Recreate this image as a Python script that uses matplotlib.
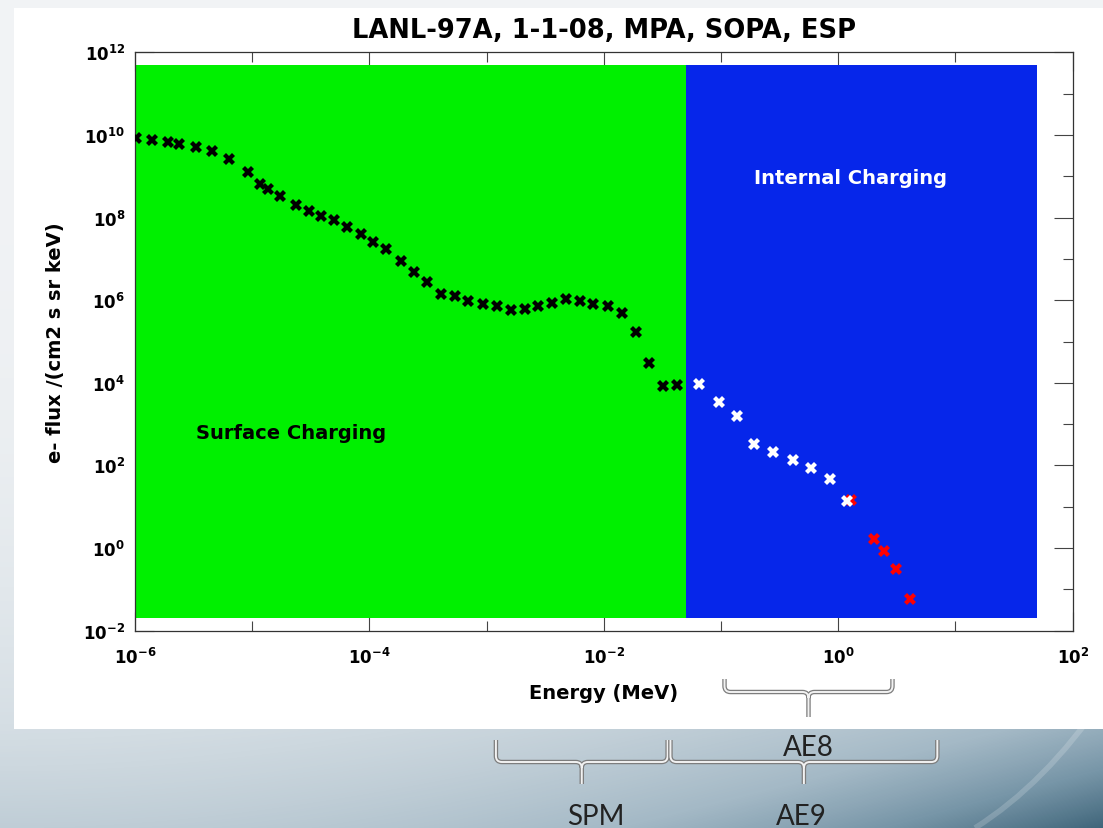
import numpy as np
import matplotlib
matplotlib.use('Agg')
import matplotlib.pyplot as plt
from matplotlib.path import Path
from matplotlib.patches import PathPatch, Rectangle
from matplotlib.colors import LinearSegmentedColormap
from matplotlib.ticker import FixedLocator, NullFormatter, LogFormatterSciNotation

# values (energy in MeV, flux per cm2 s sr keV)
mpa_sopa_energy = [1.02e-6, 1.41e-6, 1.92e-6, 2.37e-6, 3.31e-6, 4.54e-6, 6.31e-6, 9.16e-6,
                   1.17e-5, 1.37e-5, 1.74e-5, 2.38e-5, 3.05e-5, 3.86e-5, 4.95e-5, 6.40e-5,
                   8.53e-5, 1.08e-4, 1.39e-4, 1.87e-4, 2.40e-4, 3.12e-4, 4.12e-4, 5.40e-4,
                   6.97e-4, 9.27e-4, 1.22e-3, 1.61e-3, 2.13e-3, 2.76e-3, 3.60e-3, 4.76e-3,
                   6.27e-3, 8.13e-3, 1.09e-2, 1.42e-2, 1.88e-2, 2.43e-2, 3.17e-2, 4.19e-2]
mpa_sopa_flux = [8.3e9, 7.4e9, 6.6e9, 6.2e9, 5.0e9, 4.0e9, 2.57e9, 1.29e9,
                 6.6e8, 4.9e8, 3.4e8, 2.04e8, 1.45e8, 1.12e8, 8.9e7, 5.9e7,
                 4.0e7, 2.63e7, 1.74e7, 9.1e6, 4.8e6, 2.75e6, 1.38e6, 1.26e6,
                 9.8e5, 7.9e5, 7.1e5, 5.8e5, 6.2e5, 7.1e5, 8.7e5, 1.07e6,
                 9.3e5, 8.1e5, 7.1e5, 4.8e5, 1.74e5, 2.95e4, 8.3e3, 8.9e3]

sopa_energy = [0.0649, 0.0966, 0.138, 0.192, 0.279, 0.409, 0.586, 0.851, 1.197]
sopa_flux = [9.5e3, 3.47e3, 1.55e3, 331, 209, 138, 87, 46.8, 14.1]

esp_energy = [1.28, 2.0, 2.47, 3.11, 4.07]
esp_flux = [14.8, 1.62, 0.83, 0.31, 0.060]

surface_range = [1e-6, 0.05]
internal_range = [0.05, 50]
flux_band = [0.02, 5e11]

x_major = [1e-6, 1e-4, 1e-2, 1e0, 1e2]
x_minor = [1e-5, 1e-3, 1e-1, 1e1]
y_major = [1e-2, 1e0, 1e2, 1e4, 1e6, 1e8, 1e10, 1e12]
y_minor = [1e-1, 1e1, 1e3, 1e5, 1e7, 1e9, 1e11]

# model coverage brackets drawn under the plot (energy limits in MeV)
brace_names = ['AE8', 'SPM', 'AE9']
brace_lo = [0.107, 1.2e-3, 0.037]
brace_hi = [2.9, 0.035, 7.0]

W, H = 1103, 829
plt.rcParams['font.family'] = ['DejaVu Sans']
plt.rcParams['font.weight'] = 'bold'
plt.rcParams['axes.labelweight'] = 'bold'

fig = plt.figure(figsize=(W / 100, H / 100), dpi=100)

# slide background
bg = fig.add_axes([0, 0, 1, 1], zorder=0)
bg.set_xlim(0, W)
bg.set_ylim(H, 0)
bg.axis('off')
yy, xx = np.mgrid[0:H, 0:W]
t = (yy / H) ** 3 * (0.45 + 0.55 * (xx / W) ** 2)
slide = LinearSegmentedColormap.from_list(
    'slide', [(0, '#f1f3f5'), (0.3, '#d5dee4'), (0.45, '#bfcdd6'),
              (0.62, '#a4b9c6'), (0.8, '#7896a8'), (1.0, '#3f657a')])
bg.imshow(t, cmap=slide, vmin=0, vmax=1, extent=(0, W, H, 0), aspect='auto')
sw = Path([(975, 829), (1045, 785), (1103, 700)], [Path.MOVETO, Path.CURVE3, Path.CURVE3])
bg.add_patch(PathPatch(sw, fill=False, edgecolor='white', lw=4, alpha=0.18))
bg.add_patch(Rectangle((14, 9), W - 14, 721, facecolor='white', edgecolor='none'))

ax = fig.add_axes([135 / W, 1 - 631.7 / H, 937.7 / W, 578.4 / H], zorder=2)
ax.set_xscale('log')
ax.set_yscale('log')
ax.set_xlim(1e-6, 1e2)
ax.set_ylim(1e-2, 1e12)
ax.set_axisbelow(True)

ax.fill_between(surface_range, flux_band[0], flux_band[1], color='#00f000', lw=0, zorder=1)
ax.fill_between(internal_range, flux_band[0], flux_band[1], color='#0626ea', lw=0, zorder=1)

mk = dict(ls='none', marker='X', ms=9, mew=0, zorder=3)
ax.plot(mpa_sopa_energy, mpa_sopa_flux, color='black', **mk)
ax.plot(esp_energy, esp_flux, color='red', **mk)
ax.plot(sopa_energy, sopa_flux, color='white', **mk)

ax.text(3.3e-6, 4.6e2, 'Surface Charging', fontsize=14, color='black')
ax.text(0.19, 7e8, 'Internal Charging', fontsize=14, color='white')

ax.xaxis.set_major_locator(FixedLocator(x_major))
ax.xaxis.set_minor_locator(FixedLocator(x_minor))
ax.yaxis.set_major_locator(FixedLocator(y_major))
ax.yaxis.set_minor_locator(FixedLocator(y_minor))
ax.xaxis.set_major_formatter(LogFormatterSciNotation())
ax.yaxis.set_major_formatter(LogFormatterSciNotation())
ax.xaxis.set_minor_formatter(NullFormatter())
ax.yaxis.set_minor_formatter(NullFormatter())
ax.tick_params(which='both', direction='in', top=True, right=True, color='#444444', width=0.8)
ax.tick_params(which='major', length=13.5)
ax.tick_params(which='minor', length=7)
ax.tick_params(axis='x', which='major', labelsize=12, pad=12)
ax.tick_params(axis='y', which='major', labelsize=12, pad=7)
for s in ax.spines.values():
    s.set_color('#333333')
    s.set_linewidth(0.9)

ax.set_title('LANL-97A, 1-1-08, MPA, SOPA, ESP', fontsize=18.5, fontweight='bold', y=1.0273, pad=0)
ax.set_xlabel('Energy (MeV)', fontsize=14, fontweight='bold')
ax.xaxis.set_label_coords(0.5, -0.0896)
ax.set_ylabel('e- flux /(cm2 s sr keV)', fontsize=14, fontweight='bold')
ax.yaxis.set_label_coords(-0.0747, 0.5)

# brackets in pixel space, x taken from the energy axis
ov = fig.add_axes([0, 0, 1, 1], zorder=3)
ov.set_xlim(0, W)
ov.set_ylim(H, 0)
ov.axis('off')
ov.patch.set_alpha(0)
fig.canvas.draw()


def px(e):
    return ax.transData.transform((e, 1.0))[0]


def brace(x0, x1, ytop, ymid, ytip, r=6):
    xc = (x0 + x1) / 2
    verts = [(x0, ytop), (x0, ymid - r), (x0, ymid), (x0 + r, ymid),
             (xc - r, ymid), (xc, ymid), (xc, ymid + r), (xc, ytip),
             (xc, ymid + r), (xc, ymid), (xc + r, ymid),
             (x1 - r, ymid), (x1, ymid), (x1, ymid - r), (x1, ytop)]
    codes = [Path.MOVETO, Path.LINETO, Path.CURVE3, Path.CURVE3,
             Path.LINETO, Path.CURVE3, Path.CURVE3, Path.LINETO,
             Path.MOVETO, Path.CURVE3, Path.CURVE3,
             Path.LINETO, Path.CURVE3, Path.CURVE3, Path.LINETO]
    p = Path(verts, codes)
    ov.add_patch(PathPatch(p, fill=False, edgecolor='#7d7d7d', lw=3.2, capstyle='butt', joinstyle='round'))
    ov.add_patch(PathPatch(p, fill=False, edgecolor='#f2f2f2', lw=1.4, capstyle='butt', joinstyle='round'))
    return xc


rows = {'AE8': (680, 693, 718, 756), 'SPM': (741, 763, 785, 825), 'AE9': (741, 763, 785, 825)}
shift = {'AE8': 0, 'SPM': 14, 'AE9': -3}
for name, lo, hi in zip(brace_names, brace_lo, brace_hi):
    ytop, ymid, ytip, ybase = rows[name]
    xc = brace(px(lo), px(hi), ytop, ymid, ytip)
    ov.text(xc + shift[name], ybase, name, fontsize=20, fontweight='normal',
            family=['Lato', 'DejaVu Sans'], ha='center', va='baseline', color='#222222')

fig.savefig('out.png', dpi=100)
